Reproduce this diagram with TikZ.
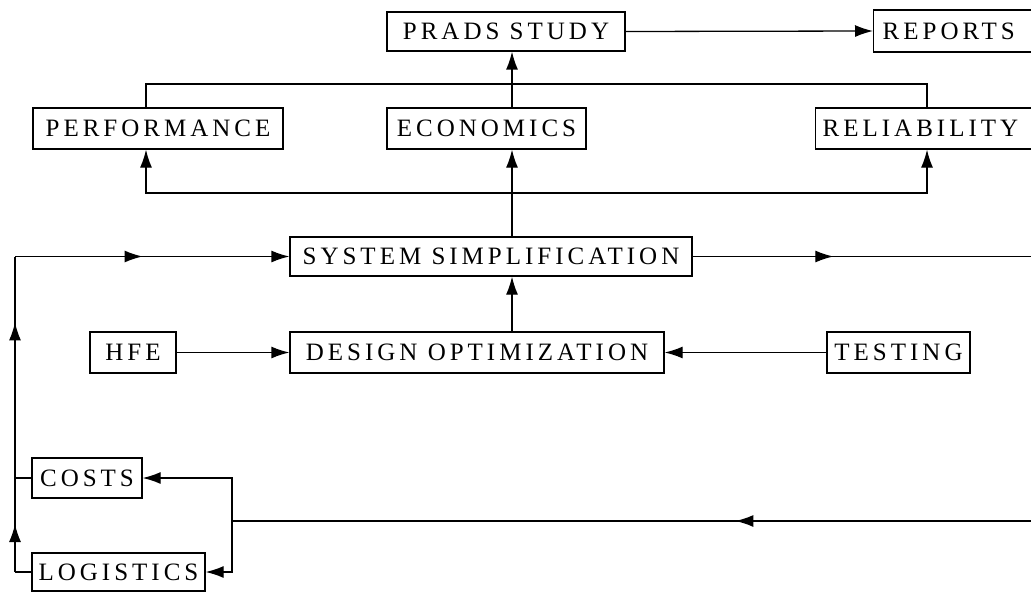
\documentclass[tikz,border=0pt]{standalone}
\usepackage{fontspec}
\setmainfont{Liberation Serif}[LetterSpace=16]
\usetikzlibrary{arrows.meta,decorations.markings}
\begin{document}
\begin{tikzpicture}[x=1pt,y=-1pt,
  box/.style={draw, line width=1.3pt, inner sep=0pt, font=\fontsize{25}{27}\selectfont},
  conn/.style={line width=1.3pt},
  tip/.style={-{Latex[length=18pt,width=12pt]}},
  midtip/.style={postaction={decorate}, decoration={markings, mark=at position #1 with {\arrow{Latex[length=18pt,width=12pt]}}}},
]
\useasboundingbox (0,0) rectangle (1031,594);
\clip (0,0) rectangle (1031,594);
% nodes
\node[box, minimum width=238pt, minimum height=39pt] (prads) at (506,31.5) {PRADS STUDY};
\node[box, anchor=west, text width=190pt, align=left, inner xsep=9pt, minimum height=42pt] (reports) at (873,31) {REPORTS};
\node[box, minimum width=250pt, minimum height=41pt] (perf) at (158,128.5) {PERFORMANCE};
\node[box, minimum width=199pt, minimum height=41pt] (econ) at (486.5,128.5) {ECONOMICS};
\node[box, anchor=west, text width=220pt, align=left, inner xsep=7pt, minimum height=41pt] (rel) at (815,128.5) {RELIABILITY};
\node[box, minimum width=402pt, minimum height=39pt] (sys) at (491,256.5) {SYSTEM SIMPLIFICATION};
\node[box, minimum width=374pt, minimum height=41pt] (des) at (477,352.5) {DESIGN OPTIMIZATION};
\node[box, minimum width=86pt, minimum height=41pt] (hfe) at (133,352.5) {HFE};
\node[box, minimum width=143pt, minimum height=41pt] (test) at (898.5,352.5) {TESTING};
\node[box, minimum width=110pt, minimum height=40pt] (costs) at (87,478) {COSTS};
\node[box, minimum width=173pt, minimum height=38pt] (logi) at (118.5,572) {LOGISTICS};
% helper coordinates
\coordinate (cx) at (512,0);
\coordinate (pv) at (146,0);
\coordinate (rv) at (927,0);
\coordinate (ub) at (512,84);
\coordinate (bb) at (512,193);
\coordinate (sysR) at (1040,256.5);
\coordinate (lc1) at (15,572);
\coordinate (lc2) at (15,256.5);
\coordinate (botR) at (1040,521);
\coordinate (junc) at (232,521);
% connectors
\draw[conn, tip] (prads.east) -- (reports.west);
\draw[conn, tip] (econ.north -| cx) -- (prads.south -| cx);
\draw[conn] (perf.north -| pv) |- (ub) -| (rel.north -| rv);
\draw[conn, tip] (sys.north -| cx) -- (econ.south -| cx);
\draw[conn, tip] (bb) -| (perf.south -| pv);
\draw[conn, tip] (bb) -| (rel.south -| rv);
\draw[conn, tip] (des.north -| cx) -- (sys.south -| cx);
\draw[conn, tip] (hfe.east) -- (des.west);
\draw[conn, tip] (test.west) -- (des.east);
\draw[conn, midtip=0.405] (sys.east) -- (sysR);
\draw[conn] (logi.west) -- (lc1);
\draw[conn, postaction={decorate}, decoration={markings,
   mark=at position 0.152 with {\arrow{Latex[length=18pt,width=12pt]}},
   mark=at position 0.791 with {\arrow{Latex[length=18pt,width=12pt]}}}] (lc1) -- (lc2);
\draw[conn, tip, midtip=0.465] (lc2) -- (sys.west);
\draw[conn] (costs.west) -- (costs.west -| lc1);
\draw[conn, midtip=0.377] (botR) -- (junc);
\draw[conn, tip] (junc) |- (costs.east);
\draw[conn, tip] (junc) |- (logi.east);
\end{tikzpicture}
\end{document}
